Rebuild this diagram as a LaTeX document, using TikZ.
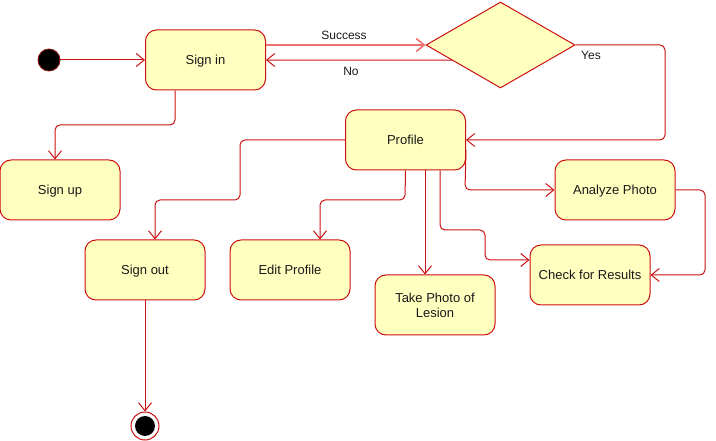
\documentclass[tikz,border=0pt]{standalone}
\usepackage{fontspec}
\setmainfont{Liberation Sans}
\usetikzlibrary{arrows.meta,shapes.geometric,calc}
\definecolor{umlred}{HTML}{CC1010}
\definecolor{umlfill}{HTML}{FFFFC0}
\definecolor{hilite}{HTML}{F07070}
\tikzset{
  statebox/.style={rectangle, rounded corners=11pt, draw=umlred, fill=umlfill,
    line width=1pt, minimum width=120pt, minimum height=60pt, inner sep=2pt,
    font=\fontsize{13}{15}\selectfont, text=black!90, text depth=0pt},
  decision/.style={diamond, draw=umlred, fill=umlfill, line width=1pt,
    minimum width=149pt, minimum height=86pt, inner sep=0pt},
  startdot/.style={circle, fill=black, draw=umlred!70!black, line width=0.8pt,
    minimum size=22pt, inner sep=0pt},
  enddot/.style={circle, draw=umlred, fill=white, line width=1pt,
    minimum size=28pt, inner sep=0pt,
    path picture={\fill[black] (path picture bounding box.center) circle (10pt);}},
  flow/.style={draw=umlred, line width=1pt, rounded corners=5pt,
    -{Straight Barb[length=8pt,width=13pt]}},
  flowlabel/.style={font=\fontsize{12}{14}\selectfont, text=black!90},
}
\begin{document}
\begin{tikzpicture}[x=1pt,y=-1pt]
\useasboundingbox (0,0) rectangle (716,441);

% states
\node[startdot] (init) at (49,60) {};
\node[statebox] (si) at (205.5,60) {Sign in};
\node[decision] (d) at (500.5,45) {};
\node[statebox] (pr) at (405.5,140) {Profile};
\node[statebox] (su) at (60,190) {Sign up};
\node[statebox] (so) at (145,270) {Sign out};
\node[statebox] (ep) at (290,270) {Edit Profile};
\node[statebox, align=center] (tp) at (435,305) {Take Photo of\\Lesion};
\node[statebox] (ap) at (615,190) {Analyze Photo};
\node[statebox] (cr) at (590,275) {Check for Results};
\node[enddot] (fin) at (145,426) {};

% transitions
\draw[flow] (init) -- (si.west);
\draw[flow, draw=hilite, line width=1.6pt] ($(si.east)+(0,-15)$) -- (d.west);
\node[flowlabel] (lsucc) at (344,35) {Success};
\draw[flow] ($(d.west)!0.35!(d.south)$) -- (si.east);
\node[flowlabel] (lno) at (351,71) {No};
\draw[flow] (d.east) -- (665,45) -- (665,140) -- (pr.east);
\node[flowlabel] (lyes) at (591,55) {Yes};

\draw[flow] (si.south -| 175,0) -- (175,125) -- (55,125) -- (su.north -| 55,0);

\draw[flow] (pr.west) -- (240,140) -- (240,200) -- (155,200) -- (so.north -| 155,0);
\draw[flow] (pr.south) -- (405,200) -- (320,200) -- (ep.north -| 320,0);
\draw[flow] (pr.south -| 425,0) -- (tp.north -| 425,0);
\draw[flow] (pr.south -| 440,0) -- (440,230) -- (485,230) -- (485,260) -- (cr.west |- 0,260);
\draw[flow] (pr.east |- 0,150) -- (465,190) -- (ap.west);
\draw[flow] (ap.east) -- (705,190) -- (705,275) -- (cr.east);
\draw[flow] (so.south) -- (fin.north);
\end{tikzpicture}
\end{document}
